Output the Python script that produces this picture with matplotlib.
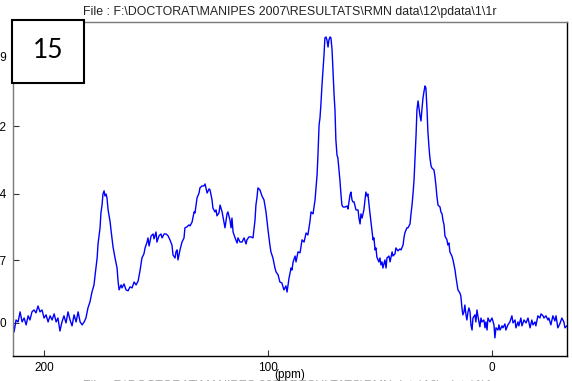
import matplotlib
matplotlib.use("Agg")
import matplotlib.pyplot as plt
from matplotlib.patches import Rectangle

# 13C CP-MAS spectrum: chemical shift (ppm) and intensity (a.u.)
shift_ppm = [
    213.8, 213.4, 212.5, 211.6, 210.7, 209.8, 208.9, 208.0, 207.1, 206.3,
    205.4, 204.5, 203.6, 202.7, 201.8, 200.9, 200.0, 199.1, 198.2, 197.3,
    196.4, 195.5, 194.6, 193.8, 192.9, 192.0, 191.1, 190.2, 189.3, 188.4,
    187.5, 186.6, 185.7, 184.8, 183.9, 183.0, 182.1, 181.3, 180.4, 179.5,
    178.6, 177.7, 177.2, 176.3, 175.9, 175.0, 174.6, 174.1, 173.7, 173.2,
    172.8, 172.3, 171.9, 171.4, 170.5, 170.1, 169.2, 168.3, 167.4, 167.0,
    166.5, 165.6, 165.2, 164.3, 163.4, 162.5, 161.6, 160.7, 159.8, 158.9,
    158.0, 157.1, 156.3, 155.4, 154.9, 154.0, 153.6, 153.1, 152.2, 151.3,
    150.9, 150.0, 149.6, 148.7, 147.8, 147.3, 146.4, 145.5, 144.6, 143.8,
    142.9, 142.4, 141.5, 141.1, 140.6, 140.2, 139.3, 138.4, 137.5, 137.1,
    136.2, 135.3, 134.8, 133.9, 133.0, 132.6, 131.7, 130.8, 130.4, 129.5,
    128.6, 128.1, 127.7, 127.2, 126.3, 125.9, 125.0, 124.6, 123.7, 123.2,
    122.8, 121.9, 121.4, 120.5, 119.7, 119.2, 118.3, 117.9, 117.0, 116.5,
    116.1, 115.6, 114.7, 113.8, 113.4, 112.5, 111.6, 110.7, 109.8, 109.4,
    108.5, 107.6, 106.7, 105.8, 105.4, 104.9, 104.5, 103.6, 102.7, 101.8,
    100.9, 100.0, 99.1, 98.7, 97.8, 96.9, 96.4, 95.5, 94.7, 93.8,
    92.9, 92.0, 91.5, 90.6, 89.7, 89.3, 88.8, 87.9, 87.5, 86.6,
    85.7, 84.8, 83.9, 83.0, 82.2, 81.3, 80.8, 79.9, 79.0, 78.1,
    77.7, 77.2, 76.8, 76.4, 75.9, 75.0, 74.6, 74.1, 73.7, 73.2,
    72.8, 72.3, 71.9, 71.4, 71.0, 70.5, 70.1, 69.7, 69.2, 68.8,
    68.3, 67.9, 67.4, 67.0, 66.5, 65.6, 64.7, 64.3, 63.9, 63.4,
    63.0, 62.5, 62.1, 61.6, 60.7, 59.8, 59.4, 58.9, 58.5, 58.0,
    57.2, 56.7, 56.3, 55.8, 55.4, 54.9, 54.5, 53.6, 53.1, 52.7,
    52.2, 51.8, 51.4, 50.5, 50.0, 49.6, 49.1, 48.7, 47.8, 47.3,
    46.9, 46.0, 45.5, 44.6, 44.2, 43.3, 42.9, 42.0, 41.1, 40.6,
    39.7, 39.3, 38.9, 38.0, 37.5, 36.6, 36.2, 35.7, 35.3, 34.8,
    34.4, 33.9, 33.5, 33.0, 32.6, 32.2, 31.7, 31.3, 30.8, 30.4,
    29.9, 29.5, 29.0, 28.6, 28.1, 27.7, 27.2, 26.8, 25.9, 25.5,
    25.0, 24.6, 24.1, 23.2, 22.8, 22.3, 21.9, 21.4, 21.0, 20.1,
    19.7, 19.2, 18.8, 17.9, 17.4, 16.5, 16.1, 15.2, 14.3, 13.9,
    13.4, 13.0, 12.5, 12.1, 11.6, 11.2, 10.7, 10.3, 9.8, 9.4,
    8.9, 8.5, 7.6, 7.2, 6.7, 6.3, 5.8, 5.4, 4.9, 4.5,
    3.6, 3.1, 2.7, 2.2, 1.8, 0.9, 0.0, -0.9, -1.3, -1.8,
    -2.7, -3.1, -3.6, -4.5, -4.9, -5.8, -6.2, -7.1, -8.0, -8.9,
    -9.4, -10.3, -10.7, -11.6, -12.0, -12.9, -13.4, -14.3, -15.2, -16.1,
    -17.0, -17.8, -18.3, -19.2, -19.6, -20.5, -21.4, -21.9, -22.8, -23.2,
    -24.1, -25.0, -25.4, -26.3, -27.2, -28.1, -28.6, -29.4, -30.3, -31.2,
    -32.1, -32.6, -33.5,
]

intensity = [
    0.0, -3.7, 1.2, 0.4, 4.5, 0.4, 2.0, -0.8, 2.9, 1.2,
    4.5, 5.3, 4.1, 6.9, 4.5, 5.3, 2.0, 3.3, 0.4, 2.9,
    1.2, 3.7, 0.4, 2.0, -3.3, 0.4, 2.9, 0.0, 4.5, 1.2,
    -1.2, 3.3, 0.4, 4.5, 0.4, -0.8, 0.4, 2.0, 6.1, 8.6,
    12.6, 15.5, 19.6, 26.5, 32.2, 38.8, 44.9, 48.1, 52.6, 53.9,
    51.8, 52.6, 51.0, 46.1, 41.2, 37.9, 31.0, 26.5, 22.4, 17.5,
    13.5, 15.5, 14.3, 15.9, 13.5, 13.1, 14.7, 14.3, 16.7, 15.5,
    17.1, 21.6, 26.5, 28.2, 30.6, 33.0, 34.7, 31.4, 35.5, 36.3,
    34.3, 37.1, 33.0, 35.5, 36.3, 34.7, 36.3, 36.3, 35.5, 33.9,
    31.8, 27.7, 26.5, 29.0, 29.8, 25.7, 29.8, 33.0, 34.7, 38.8,
    39.2, 40.0, 39.6, 41.2, 45.3, 44.9, 51.0, 53.0, 55.1, 55.9,
    55.9, 56.7, 55.1, 53.0, 54.7, 54.3, 50.2, 46.9, 45.3, 46.1,
    43.7, 44.9, 48.1, 45.3, 41.2, 38.8, 44.5, 45.3, 42.0, 38.8,
    42.8, 37.1, 34.7, 32.6, 34.7, 33.0, 33.0, 34.7, 32.2, 33.9,
    35.1, 35.1, 34.7, 42.0, 48.1, 51.4, 55.1, 54.3, 51.8, 50.2,
    45.3, 37.9, 31.4, 29.0, 26.5, 22.4, 20.8, 19.6, 16.7, 16.3,
    13.5, 15.1, 12.6, 18.4, 22.4, 21.6, 24.9, 27.3, 24.9, 29.0,
    28.6, 33.9, 33.0, 36.7, 35.9, 41.2, 45.3, 44.5, 50.2, 60.4,
    68.5, 80.8, 83.6, 88.9, 97.1, 109.3, 116.3, 116.7, 115.5, 112.6,
    115.5, 116.7, 116.3, 111.4, 103.2, 93.0, 86.9, 74.7, 68.5, 67.3,
    62.4, 58.3, 52.2, 48.1, 47.3, 47.3, 47.7, 46.5, 49.0, 52.2,
    53.4, 50.2, 49.4, 49.4, 46.1, 46.1, 42.8, 40.4, 44.5, 42.8,
    46.1, 50.2, 53.4, 51.8, 52.6, 48.1, 44.9, 37.9, 33.9, 34.7,
    29.8, 30.6, 26.9, 24.9, 26.5, 23.7, 24.9, 22.4, 25.7, 22.4,
    26.5, 27.3, 24.9, 29.0, 27.3, 28.2, 30.6, 29.4, 30.2, 29.8,
    31.8, 34.7, 36.7, 38.8, 38.8, 40.4, 44.1, 48.1, 52.2, 58.3,
    66.5, 76.7, 86.9, 90.6, 87.7, 84.9, 82.4, 86.9, 91.8, 94.2,
    96.7, 95.9, 86.9, 77.9, 71.4, 67.3, 64.1, 63.2, 62.4, 60.0,
    55.9, 51.8, 48.1, 47.3, 45.3, 44.5, 42.0, 40.0, 35.5, 33.9,
    31.8, 32.6, 29.0, 27.3, 25.7, 21.6, 18.8, 13.5, 12.2, 11.0,
    6.1, 3.3, 4.5, 7.3, 3.3, 1.2, 4.5, 6.1, 4.5, -0.8,
    -2.9, 2.0, 3.3, 0.4, 5.3, 2.9, 0.4, -1.6, 2.0, 0.4,
    1.2, -2.0, 0.4, -2.9, 2.0, 0.4, 2.0, -0.8, -6.1, -2.0,
    -2.9, -0.8, -2.9, -1.2, -2.0, -0.4, -2.9, -0.8, 0.4, 2.9,
    0.0, 1.2, -2.0, 0.4, -1.2, 2.0, -1.2, 1.2, 0.0, 2.0,
    -2.0, 1.2, -0.8, 0.4, -1.2, 2.9, 2.0, 3.7, 2.9, 2.0,
    2.9, 1.2, 2.0, -0.8, 2.9, 0.8, 2.9, -2.0, -0.4, 2.0,
    0.4, -2.0, -1.2,
]

xticks = [200, 100, 0]
ytick_values = [0.0, 25.5, 52.8, 80.2, 108.9]
ytick_labels = ["0", "27", "54", "82", "109"]

title_text = "File : F:\\DOCTORAT\\MANIPES 2007\\RESULTATS\\RMN data\\12\\pdata\\1\\1r"
sample_label = "15"

plt.rcParams["font.family"] = ["Liberation Sans", "DejaVu Sans"]

W, H = 572, 381
fig = plt.figure(figsize=(W / 100, H / 100), dpi=100)
ax = fig.add_axes([12.7 / W, 1 - 356 / H, (567 - 12.7) / W, (356 - 22) / H])

ax.plot(shift_ppm, intensity, color="#0000ff", lw=1.0)

ax.set_xlim(214.0, -33.5)
ax.set_ylim(-13.5, 122.8)

ax.set_xticks(xticks)
ax.set_xticklabels([str(v) for v in xticks], fontsize=8.5)
ax.set_yticks(ytick_values)
ax.set_yticklabels(ytick_labels, fontsize=8.5)
ax.tick_params(axis="both", direction="in", length=4, width=0.8, color="#333333")
ax.tick_params(axis="x", pad=4.0)
ax.tick_params(axis="y", pad=4.5)

for side in ("left", "top"):
    ax.spines[side].set_color("#7a7a7a")
for side in ("right", "bottom"):
    ax.spines[side].set_color("black")
for sp in ax.spines.values():
    sp.set_linewidth(1.0)

ax.set_xlabel("(ppm)", fontsize=8.5, labelpad=-3.6)

cx = 0.5 * (12.7 + 567) / W
fig.text(cx, 1 - 12.5 / H, title_text, ha="center", va="center",
         fontsize=8.9, color="#222222")

# filename footer, running off the lower edge of the canvas
fig.text(cx, 1 - 379.5 / H, title_text, ha="center", va="top",
         fontsize=8.9, color="#aaaaaa")

# sample number box in the upper-left corner
box = Rectangle((12.3 / W, 1 - 83 / H), 72 / W, 63 / H, transform=fig.transFigure,
                facecolor="white", edgecolor="black", lw=1.5, zorder=5)
fig.patches.append(box)
fig.text(48.5 / W, 1 - 51 / H, sample_label, ha="center", va="center",
         fontsize=19, family=["Lato", "DejaVu Sans"], zorder=6)

fig.savefig("out.png", dpi=100)
